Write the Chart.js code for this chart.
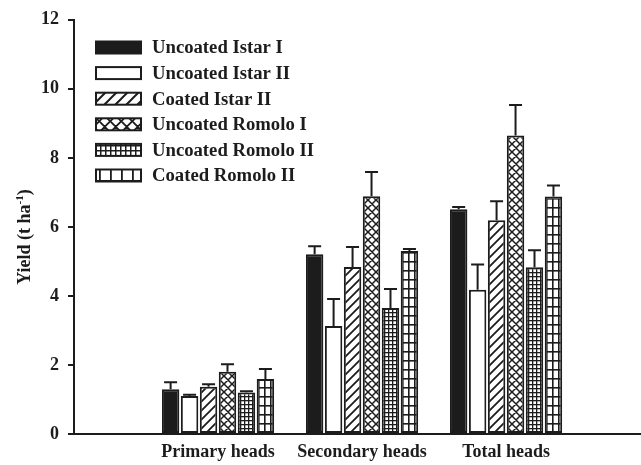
<!DOCTYPE html>
<html>
<head>
<meta charset="utf-8">
<script src="https://cdn.jsdelivr.net/npm/chart.js@4/dist/chart.umd.min.js"></script>
<style>
  html, body { margin: 0; padding: 0; background: #fff; }
  canvas { display: block; }
</style>
</head>
<body>
<canvas id="chart" width="641" height="465"></canvas>
<script>
// Head categories along the x axis
const categories = ['Primary heads', 'Secondary heads', 'Total heads'];

// Treatments (one bar per treatment in every group)
const treatments = [
  'Uncoated Istar I',
  'Uncoated Istar II',
  'Coated Istar II',
  'Uncoated Romolo I',
  'Uncoated Romolo II',
  'Coated Romolo II'
];

// Yield (t ha-1) per category, one array per treatment
const uncoatedIstarI   = [1.30, 5.21, 6.51];
const uncoatedIstarII  = [1.10, 3.13, 4.18];
const coatedIstarII    = [1.37, 4.84, 6.19];
const uncoatedRomoloI  = [1.80, 6.89, 8.65];
const uncoatedRomoloII = [1.20, 3.65, 4.83];
const coatedRomoloII   = [1.59, 5.30, 6.88];

// Standard errors (upper whisker only)
const errUncoatedIstarI   = [0.20, 0.23, 0.07];
const errUncoatedIstarII  = [0.04, 0.78, 0.73];
const errCoatedIstarII    = [0.07, 0.58, 0.55];
const errUncoatedRomoloI  = [0.22, 0.70, 0.88];
const errUncoatedRomoloII = [0.04, 0.55, 0.49];
const errCoatedRomoloII   = [0.29, 0.06, 0.32];

// Y axis ticks
const yTicks = [0, 2, 4, 6, 8, 10, 12];

const seriesValues = [uncoatedIstarI, uncoatedIstarII, coatedIstarII, uncoatedRomoloI, uncoatedRomoloII, coatedRomoloII];
const seriesErrors = [errUncoatedIstarI, errUncoatedIstarII, errCoatedIstarII, errUncoatedRomoloI, errUncoatedRomoloII, errCoatedRomoloII];

const INK = '#1c1c1c';
const FONT = '"Liberation Serif", "Times New Roman", serif';

// ---- fill patterns ----
function tile(w, h, draw) {
  const c = document.createElement('canvas');
  c.width = w; c.height = h;
  const g = c.getContext('2d');
  g.fillStyle = '#fff';
  g.fillRect(0, 0, w, h);
  g.strokeStyle = INK;
  g.fillStyle = INK;
  draw(g, w, h);
  return g.createPattern(c, 'repeat');
}
function hatch(p, lw) {
  return tile(p, p, (g) => {
    g.lineWidth = lw;
    g.beginPath();
    g.moveTo(-2, p + 2); g.lineTo(p + 2, -2);
    g.moveTo(-2, 2); g.lineTo(2, -2);
    g.moveTo(p - 2, p + 2); g.lineTo(p + 2, p - 2);
    g.stroke();
  });
}
function cross(p, lw) {
  return tile(p, p, (g) => {
    g.lineWidth = lw;
    g.beginPath();
    g.moveTo(-2, p + 2); g.lineTo(p + 2, -2);
    g.moveTo(-2, -2); g.lineTo(p + 2, p + 2);
    g.moveTo(-2, 2); g.lineTo(2, -2);
    g.moveTo(p - 2, p + 2); g.lineTo(p + 2, p - 2);
    g.moveTo(p - 2, -2); g.lineTo(p + 2, 2);
    g.moveTo(-2, p - 2); g.lineTo(2, p + 2);
    g.stroke();
  });
}
function grid(w, h, lw) {
  return tile(w, h, (g) => {
    g.fillRect(0, 0, lw, h);
    g.fillRect(0, 0, w, lw);
  });
}

const barFills = [
  INK,
  '#ffffff',
  hatch(9, 1.8),
  cross(8, 1.5),
  grid(4.5, 4.5, 1.3),
  grid(6, 9, 1.6)
];
const legendFills = [
  INK,
  '#ffffff',
  hatch(11, 2),
  cross(11.5, 1.8),
  grid(5.7, 5.5, 1.5),
  grid(11.5, 12, 1.8)
];

// ---- upward error bars ----
const errorBars = {
  id: 'errorBars',
  afterDatasetsDraw(chart) {
    const ctx = chart.ctx;
    const y = chart.scales.y;
    ctx.save();
    ctx.strokeStyle = INK;
    ctx.lineWidth = 2;
    chart.data.datasets.forEach((ds, i) => {
      const meta = chart.getDatasetMeta(i);
      meta.data.forEach((bar, j) => {
        const top = y.getPixelForValue(seriesValues[i][j] + seriesErrors[i][j]);
        ctx.beginPath();
        ctx.moveTo(bar.x, bar.y);
        ctx.lineTo(bar.x, top);
        ctx.moveTo(bar.x - 6.5, top);
        ctx.lineTo(bar.x + 6.5, top);
        ctx.stroke();
      });
    });
    ctx.restore();
  }
};

// ---- legend drawn inside the plot ----
const boxLegend = {
  id: 'boxLegend',
  afterDraw(chart) {
    const ctx = chart.ctx;
    ctx.save();
    ctx.font = 'bold 18.7px ' + FONT;
    ctx.textBaseline = 'middle';
    ctx.textAlign = 'left';
    chart.data.datasets.forEach((ds, i) => {
      const cy = 47.5 + i * 25.6;
      const bx = 96, bw = 45, bh = 12;
      ctx.fillStyle = legendFills[i];
      ctx.fillRect(bx, cy - bh / 2, bw, bh);
      ctx.strokeStyle = INK;
      ctx.lineWidth = 2;
      ctx.strokeRect(bx, cy - bh / 2, bw, bh);
      ctx.fillStyle = INK;
      ctx.fillText(ds.label, 152, cy + 1);
    });
    ctx.restore();
  }
};

// ---- y axis title with superscript ----
const yTitle = {
  id: 'yTitle',
  afterDraw(chart) {
    const ctx = chart.ctx;
    ctx.save();
    ctx.translate(30, 237);
    ctx.rotate(-Math.PI / 2);
    ctx.fillStyle = INK;
    ctx.textBaseline = 'alphabetic';
    ctx.textAlign = 'left';
    const main = 'Yield (t ha';
    const sup = '-1';
    const close = ')';
    const big = 'bold 18px ' + FONT;
    const small = 'bold 11px ' + FONT;
    ctx.font = big;
    const w1 = ctx.measureText(main).width;
    const w3 = ctx.measureText(close).width;
    ctx.font = small;
    const w2 = ctx.measureText(sup).width;
    let x = -(w1 + w2 + w3) / 2;
    ctx.font = big;
    ctx.fillText(main, x, 0);
    x += w1;
    ctx.font = small;
    ctx.fillText(sup, x, -7);
    x += w2;
    ctx.font = big;
    ctx.fillText(close, x, 0);
    ctx.restore();
  }
};

new Chart(document.getElementById('chart'), {
  type: 'bar',
  data: {
    datasets: treatments.map((name, i) => ({
      label: name,
      data: seriesValues[i].map((v, j) => ({ x: j + 1, y: v })),
      backgroundColor: barFills[i],
      borderColor: INK,
      borderWidth: 2,
      borderSkipped: false,
      barPercentage: 0.92,
      categoryPercentage: 0.79
    }))
  },
  options: {
    responsive: false,
    animation: false,
    layout: { padding: { top: 19, right: 1, left: 0, bottom: 0 } },
    plugins: { legend: { display: false }, tooltip: { enabled: false } },
    scales: {
      x: {
        type: 'linear',
        min: 0,
        max: 3.93,
        offset: false,
        grid: { display: false, drawTicks: false, offset: false },
        border: { display: true, color: INK, width: 2 },
        afterBuildTicks: (s) => { s.ticks = categories.map((c, i) => ({ value: i + 1 })); },
        ticks: {
          autoSkip: false,
          maxRotation: 0,
          padding: 8,
          color: INK,
          font: { family: FONT, size: 18, weight: 'bold' },
          callback: (v) => categories[Math.round(v) - 1] || ''
        },
        afterFit: (s) => { s.height = 31; }
      },
      y: {
        min: 0,
        max: 12,
        afterBuildTicks: (s) => { s.ticks = yTicks.map(v => ({ value: v })); },
        grid: { drawOnChartArea: false, drawTicks: true, tickLength: 6, color: INK, lineWidth: 2 },
        border: { display: true, color: INK, width: 2 },
        ticks: {
          padding: 9,
          color: INK,
          font: { family: FONT, size: 18, weight: 'bold' }
        },
        afterFit: (s) => { s.width = 74; }
      }
    }
  },
  plugins: [errorBars, boxLegend, yTitle]
});
</script>
</body>
</html>
